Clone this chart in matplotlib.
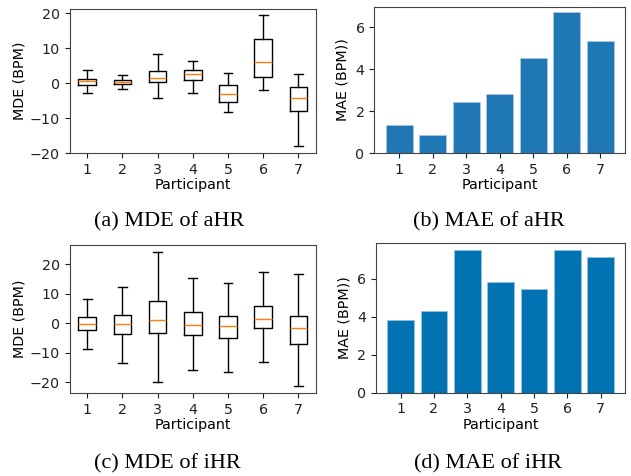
import matplotlib
matplotlib.use("Agg")
import matplotlib.pyplot as plt

participants = [1, 2, 3, 4, 5, 6, 7]

# (a) MDE of aHR box stats
a_med = [0.67, 0.5, 1.5, 2.7, -3.0, 6.1, -4.3]
a_q1 = [-0.6, -0.3, 0.3, 1.05, -5.3, 1.7, -7.8]
a_q3 = [1.3, 0.86, 3.6, 3.9, -0.6, 12.5, -1.05]
a_lo = [-2.8, -1.7, -4.3, -2.8, -8.3, -1.9, -17.8]
a_hi = [3.8, 2.3, 8.3, 6.4, 2.9, 19.6, 2.5]

# (b) MAE of aHR
b_mae = [1.35, 0.87, 2.46, 2.84, 4.52, 6.71, 5.33]

# (c) MDE of iHR box stats
c_med = [-0.3, -0.3, 1.0, -0.45, -0.9, 1.35, -1.5]
c_q1 = [-2.4, -3.7, -3.3, -4.1, -5.1, -1.7, -6.9]
c_q3 = [2.0, 2.7, 7.7, 3.7, 2.3, 6.0, 2.6]
c_lo = [-8.6, -13.4, -19.9, -15.8, -16.5, -13.0, -21.1]
c_hi = [8.1, 12.2, 24.2, 15.3, 13.7, 17.5, 16.8]

# (d) MAE of iHR
d_mae = [3.82, 4.30, 7.49, 5.81, 5.46, 7.49, 7.14]

captions = ["(a) MDE of aHR", "(b) MAE of aHR", "(c) MDE of iHR", "(d) MAE of iHR"]

plt.rcParams['font.family'] = 'DejaVu Sans'
FS = 10.3
plt.rcParams['font.size'] = FS

W, H = 631, 476
fig = plt.figure(figsize=(W / 100, H / 100), dpi=100)

def ax_at(l, t, r, b):
    return fig.add_axes([l / W, 1 - b / H, (r - l) / W, (b - t) / H])

def make_stats(med, q1, q3, lo, hi):
    return [dict(med=m, q1=a, q3=b, whislo=c, whishi=d, fliers=[])
            for m, a, b, c, d in zip(med, q1, q3, lo, hi)]

spine_col = '#444444'

def style(ax):
    for s in ax.spines.values():
        s.set_color(spine_col)
    ax.tick_params(colors='#222222', labelsize=FS)
    ax.set_xlabel('Participant', fontsize=FS, labelpad=1)

# (a)
axa = ax_at(69.5, 9, 316, 153.3)
axa.bxp(make_stats(a_med, a_q1, a_q3, a_lo, a_hi), positions=participants,
        widths=0.5, showfliers=False,
        medianprops=dict(color='#ff7f0e'))
axa.set_xlim(0.5, 7.5)
axa.set_ylim(-20, 21.2)
axa.set_yticks([-20, -10, 0, 10, 20])
axa.set_xticks(participants)
axa.set_xticklabels([str(p) for p in participants])
axa.set_ylabel('MDE (BPM)', fontsize=FS, labelpad=2)
style(axa)

# (b)
axb = ax_at(374.3, 6.7, 625.3, 153.3)
axb.bar(participants, b_mae, color='#1f77b4', edgecolor='#aacbe6', linewidth=0.5)
axb.set_xlim(0.26, 7.74)
axb.set_ylim(0, 6.98)
axb.set_yticks([0, 2, 4, 6])
axb.set_xticks(participants)
axb.set_ylabel('MAE (BPM))', fontsize=FS, labelpad=4)
style(axb)

# (c)
axc = ax_at(69.5, 245, 316, 393.3)
axc.bxp(make_stats(c_med, c_q1, c_q3, c_lo, c_hi), positions=participants,
        widths=0.5, showfliers=False,
        medianprops=dict(color='#ff7f0e'))
axc.set_xlim(0.5, 7.5)
axc.set_ylim(-23.7, 26.5)
axc.set_yticks([-20, -10, 0, 10, 20])
axc.set_xticks(participants)
axc.set_xticklabels([str(p) for p in participants])
axc.set_ylabel('MDE (BPM)', fontsize=FS, labelpad=2)
style(axc)

# (d)
axd = ax_at(376, 243.3, 625.3, 392.7)
axd.bar(participants, d_mae, color='#0173b2', edgecolor='#99c4e0', linewidth=0.5)
axd.set_xlim(0.26, 7.74)
axd.set_ylim(0, 7.86)
axd.set_yticks([0, 2, 4, 6])
axd.set_xticks(participants)
axd.set_ylabel('MAE (BPM))', fontsize=FS, labelpad=4)
style(axd)

cap_pos = [(169, 221.5), (489, 221.5), (167, 463.5), (488, 463.5)]
for (x, y), txt in zip(cap_pos, captions):
    fig.text(x / W, 1 - y / H, txt, ha='center', va='center',
             family='Liberation Serif', fontsize=16, color='black')

fig.savefig('out.png', dpi=100)
